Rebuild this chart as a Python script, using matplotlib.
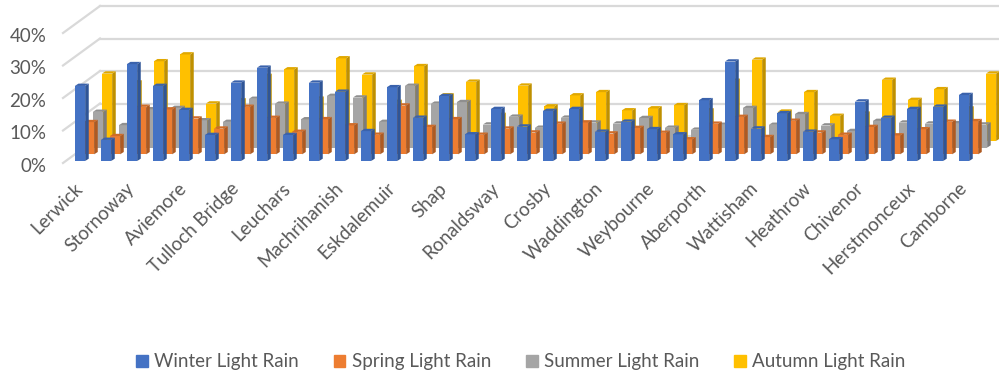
import matplotlib
matplotlib.use("Agg")
import matplotlib.pyplot as plt
from matplotlib.patches import Patch
from matplotlib.transforms import ScaledTranslation

plt.rcParams['font.family'] = ['Lato', 'DejaVu Sans']

tick_stations = ["Lerwick", "Stornoway", "Aviemore", "Tulloch Bridge", "Leuchars",
                 "Machrihanish", "Eskdalemuir", "Shap", "Ronaldsway", "Crosby",
                 "Waddington", "Weybourne", "Aberporth", "Wattisham", "Heathrow",
                 "Chivenor", "Herstmonceux", "Camborne"]

winter = [23.1, 6.5, 29.8, 23.1, 15.7, 8.0, 24.1, 28.7, 8.0, 24.1, 21.3, 9.2,
          22.7, 13.3, 20.0, 8.2, 16.0, 10.6, 15.4, 16.0, 9.0, 12.1, 9.8, 8.2,
          18.7, 30.6, 10.0, 14.7, 9.0, 6.7, 18.3, 13.3, 16.0, 16.7, 20.3]
spring = [9.9, 5.6, 14.6, 13.8, 11.0, 7.9, 14.6, 11.2, 6.9, 10.8, 8.9, 6.0,
          15.0, 8.4, 10.8, 6.0, 7.9, 6.7, 9.4, 9.8, 6.4, 8.1, 6.6, 4.6,
          9.4, 11.5, 5.3, 10.3, 6.7, 6.0, 8.4, 5.8, 7.7, 10.0, 10.2]
summer = [11.0, 6.9, 11.8, 12.2, 8.4, 7.9, 15.0, 13.5, 8.7, 15.9, 15.4, 7.9,
          19.0, 13.5, 14.0, 7.1, 9.5, 6.1, 9.2, 7.7, 7.4, 9.1, 6.1, 5.5,
          7.0, 12.2, 7.0, 10.3, 6.8, 5.1, 8.2, 7.7, 7.4, 7.5, 7.1]
autumn = [20.7, 18.0, 24.5, 26.6, 11.5, 12.5, 20.0, 22.0, 13.0, 25.4, 20.4, 12.0,
          23.0, 14.0, 18.2, 8.0, 17.0, 10.6, 14.0, 15.0, 9.4, 10.0, 11.0, 9.4,
          18.5, 25.0, 9.0, 15.0, 7.7, 8.4, 18.8, 12.6, 15.9, 10.0, 20.7]
y_ticks = [0, 10, 20, 30, 40]
y_labels = ["0%", "10%", "20%", "30%", "40%"]
series_names = ["Winter Light Rain", "Spring Light Rain", "Summer Light Rain", "Autumn Light Rain"]

W, H = 999, 376
fig = plt.figure(figsize=(W / 100, H / 100), dpi=100)

# Axes frame: one category step is 26 px and ten percent is 32.5 px
left_px, right_px, zero_px, top_px = 63, 999, 163, 33
ax = fig.add_axes([left_px / W, 1 - zero_px / H, (right_px - left_px) / W, (zero_px - top_px) / H])
PX_X = 1 / 26
PX_Y = 10 / 32.5
first_center_px = 80
ax.set_xlim((left_px - first_center_px) * PX_X, (right_px - first_center_px) * PX_X)
ax.set_ylim(0, 40)
for s in ax.spines.values():
    s.set_visible(False)
ax.patch.set_visible(False)

# Wall gridlines: a receding stroke on the left, then a horizontal run along the back
wall_dx = 37 * PX_X
wall_dy = 27 * PX_Y
xmin, xmax = ax.get_xlim()
for v in y_ticks:
    ax.plot([xmin, xmin + wall_dx], [v, v + wall_dy], color="#D9D9D9", lw=1.6, clip_on=False, zorder=1)
    ax.plot([xmin + wall_dx, xmax], [v + wall_dy, v + wall_dy], color="#D9D9D9", lw=1.6, clip_on=False, zorder=1)

# Oblique bars, one row per season, rear row first
bar_w = 10.3 * PX_X
side_dx = 3.6 * PX_X
top_dy = 2.3 * PX_Y
row_dx = 9 * PX_X
row_dy = 6.7 * PX_Y
front_base = 2 * PX_Y
rows = [
    (autumn, 3, "#FFC000", "#BF9000", "#E0A800"),
    (summer, 2, "#A5A5A5", "#7C7C7C", "#8F8F8F"),
    (spring, 1, "#ED7D31", "#AE5A21", "#D06C28"),
    (winter, 0, "#4472C4", "#2F5597", "#3A62AC"),
]
for values, depth, face, side, top in rows:
    base = front_base + depth * row_dy
    z = 6 - depth
    xs = [i + depth * row_dx for i in range(len(values))]
    ax.bar(xs, values, width=bar_w, bottom=base, color=face, linewidth=0, zorder=z, clip_on=False)
    for x, v in zip(xs, values):
        r = x + bar_w / 2
        l = x - bar_w / 2
        t = base + v
        ax.fill([r, r + side_dx, r + side_dx, r], [base, base + top_dy, t + top_dy, t],
                color=side, lw=0, zorder=z, clip_on=False)
        ax.fill([l, r, r + side_dx, l + side_dx], [t, t, t + top_dy, t + top_dy],
                color=top, lw=0, zorder=z, clip_on=False)

ax.set_yticks(y_ticks)
ax.set_yticklabels(y_labels, fontsize=13.5, color="#595959")
ax.tick_params(axis="y", length=0, pad=12)
for label in ax.get_yticklabels():
    label.set_transform(label.get_transform() + ScaledTranslation(0, -1.5 / 100, fig.dpi_scale_trans))
ax.set_xticks(range(0, len(winter), 2))
ax.set_xticklabels(tick_stations, fontsize=13.5, color="#595959", rotation=45,
                   ha="right", va="top", rotation_mode="anchor")
ax.tick_params(axis="x", length=0, pad=12)
for label in ax.get_xticklabels():
    label.set_transform(label.get_transform() + ScaledTranslation(-6 / 100, 0, fig.dpi_scale_trans))

handles = [Patch(color=c) for c in ["#4472C4", "#ED7D31", "#A5A5A5", "#FFC000"]]
fig.legend(handles, series_names, loc="center", bbox_to_anchor=(521 / W, 1 - 362 / H), ncol=4,
           frameon=False, fontsize=13.5, labelcolor="#595959", handlelength=0.62, handleheight=0.62,
           handletextpad=0.35, columnspacing=1.85, borderpad=0, borderaxespad=0)

fig.savefig("out.png", dpi=100, facecolor="white")
